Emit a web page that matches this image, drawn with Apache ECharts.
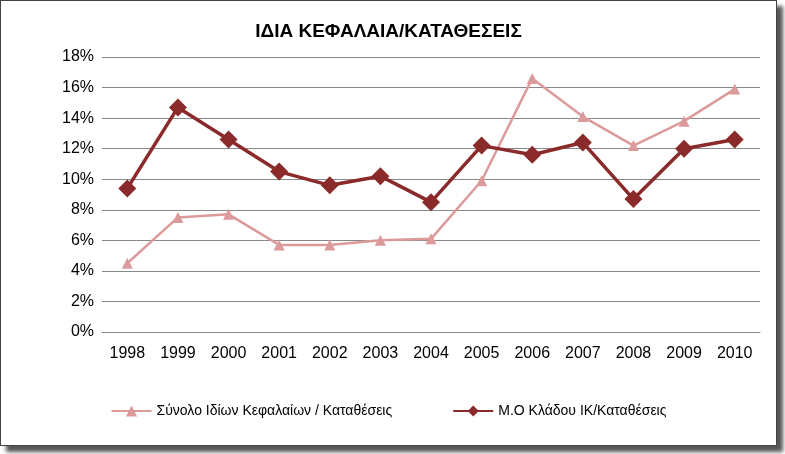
<!DOCTYPE html>
<html><head><meta charset="utf-8">
<script src="https://cdn.jsdelivr.net/npm/echarts@6/dist/echarts.min.js"></script>
<style>html,body{margin:0;padding:0;background:#fff}
#c{position:absolute;left:0;top:0;width:775px;height:444px;background:#fff;border:1px solid #444;box-shadow:6px 6px 4px #555}</style>
</head><body><div id="c"></div>
<script>
const years=['1998','1999','2000','2001','2002','2003','2004','2005','2006','2007','2008','2009','2010'];
const totalEquity=[4.5,7.5,7.7,5.7,5.7,6.0,6.1,9.9,16.6,14.1,12.2,13.8,15.9];
const sectorAvg=[9.4,14.7,12.6,10.5,9.6,10.2,8.5,12.2,11.6,12.4,8.7,12.0,12.6];
const chart=echarts.init(document.getElementById('c'));
chart.setOption({
 animation:false,
 title:{text:'ΙΔΙΑ ΚΕΦΑΛΑΙΑ/ΚΑΤΑΘΕΣΕΙΣ',left:'center',top:16,textStyle:{fontFamily:'Liberation Sans',fontSize:19,fontWeight:'bold',color:'#000'}},
 legend:{bottom:22,itemGap:60,itemWidth:40,textStyle:{fontFamily:'Liberation Sans',fontSize:14,color:'#000'},
   data:['Σύνολο Ιδίων Κεφαλαίων / Καταθέσεις','Μ.Ο Κλάδου ΙΚ/Καταθέσεις']},
 grid:{left:101,right:16,top:56,bottom:113},
 xAxis:{type:'category',data:years,boundaryGap:true,axisTick:{show:false},
   axisLine:{lineStyle:{color:'#888'}},axisLabel:{fontFamily:'Liberation Sans',fontSize:16,color:'#000',margin:14}},
 yAxis:{type:'value',min:0,max:18,interval:2,axisLabel:{formatter:'{value}%',fontFamily:'Liberation Sans',fontSize:16,color:'#000'},
   splitLine:{lineStyle:{color:'#888'}},axisLine:{show:false},axisTick:{show:false}},
 series:[
  {name:'Σύνολο Ιδίων Κεφαλαίων / Καταθέσεις',type:'line',data:totalEquity,symbol:'triangle',symbolSize:11,
   lineStyle:{color:'#dc9a9a',width:2.5},itemStyle:{color:'#dc9a9a'}},
  {name:'Μ.Ο Κλάδου ΙΚ/Καταθέσεις',type:'line',data:sectorAvg,symbol:'diamond',symbolSize:18,
   lineStyle:{color:'#8b2a2a',width:3.5},itemStyle:{color:'#8b2a2a'}}
 ]
});
</script></body></html>
